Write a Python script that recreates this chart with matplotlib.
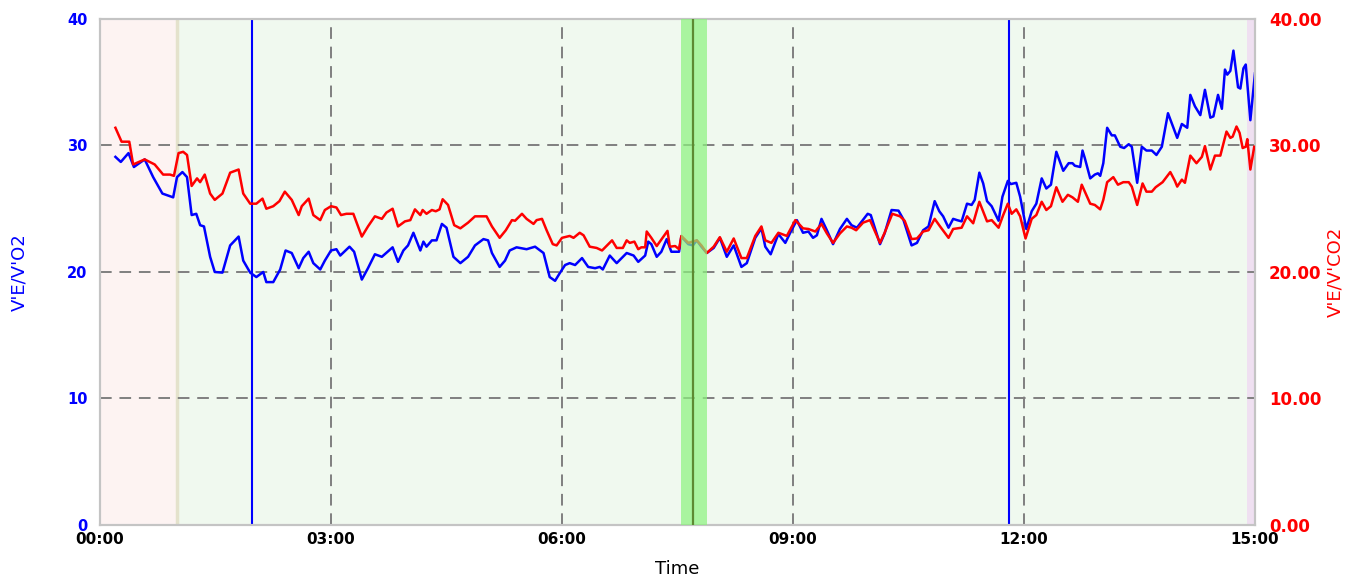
import matplotlib
matplotlib.use("Agg")
import matplotlib.pyplot as plt
from matplotlib.ticker import FuncFormatter

# time in minutes, V'E/V'O2 (blue, left axis)
o2_t = [0.20, 0.27, 0.37, 0.44, 0.58, 0.69, 0.81, 0.95, 1.00, 1.07, 1.13, 1.19, 1.25, 1.30, 1.35,
        1.43, 1.49, 1.59, 1.69, 1.80, 1.86, 1.95, 2.03, 2.12, 2.16, 2.25, 2.34, 2.41, 2.49, 2.58,
        2.64, 2.71, 2.77, 2.86, 2.92, 3.00, 3.07, 3.12, 3.24, 3.30, 3.40, 3.48, 3.57, 3.66, 3.80,
        3.87, 3.94, 4.00, 4.07, 4.16, 4.20, 4.24, 4.31, 4.37, 4.44, 4.50, 4.59, 4.68, 4.78, 4.87,
        4.98, 5.04, 5.09, 5.19, 5.26, 5.32, 5.41, 5.54, 5.65, 5.76, 5.84, 5.91, 5.97, 6.04, 6.10,
        6.17, 6.26, 6.34, 6.43, 6.49, 6.53, 6.62, 6.71, 6.84, 6.93, 6.99, 7.08, 7.12, 7.16, 7.23,
        7.29, 7.36, 7.42, 7.52, 7.55, 7.64, 7.70, 7.75, 7.81, 7.88, 7.97, 8.05, 8.14, 8.23, 8.33,
        8.40, 8.51, 8.59, 8.64, 8.71, 8.81, 8.90, 8.96, 9.05, 9.13, 9.20, 9.26, 9.31, 9.37, 9.44,
        9.52, 9.61, 9.70, 9.76, 9.83, 9.97, 10.01, 10.13, 10.19, 10.28, 10.37, 10.43, 10.54, 10.61,
        10.69, 10.76, 10.84, 10.90, 10.95, 11.02, 11.08, 11.13, 11.19, 11.26, 11.32, 11.36, 11.42,
        11.47, 11.52, 11.58, 11.67, 11.72, 11.79, 11.83, 11.90, 11.95, 12.03, 12.10, 12.16, 12.23,
        12.29, 12.35, 12.42, 12.51, 12.58, 12.63, 12.66, 12.73, 12.76, 12.79, 12.86, 12.92, 12.96,
        12.99, 13.03, 13.08, 13.14, 13.18, 13.25, 13.30, 13.36, 13.40, 13.47, 13.53, 13.59, 13.66,
        13.72, 13.79, 13.87, 13.94, 13.99, 14.05, 14.12, 14.16, 14.22, 14.29, 14.35, 14.42, 14.46,
        14.52, 14.57, 14.61, 14.64, 14.68, 14.72, 14.78, 14.81, 14.85, 14.88, 14.94, 15.00]
o2_v = [29.1, 28.7, 29.4, 28.3, 28.9, 27.5, 26.2, 25.9, 27.5, 27.9, 27.5, 24.5, 24.6, 23.7, 23.6,
        21.2, 20.0, 19.95, 22.1, 22.8, 20.9, 19.95, 19.6, 20.0, 19.2, 19.2, 20.2, 21.7, 21.5, 20.3,
        21.1, 21.6, 20.7, 20.2, 20.9, 21.7, 21.8, 21.3, 22.0, 21.6, 19.4, 20.3, 21.4, 21.2, 21.95,
        20.8, 21.7, 22.1, 23.1, 21.7, 22.4, 22.0, 22.5, 22.5, 23.8, 23.5, 21.2, 20.7, 21.2, 22.1,
        22.6, 22.5, 21.5, 20.4, 20.9, 21.7, 21.95, 21.8, 22.0, 21.5, 19.6, 19.3, 19.9, 20.55, 20.7,
        20.55, 21.1, 20.4, 20.3, 20.4, 20.2, 21.3, 20.7, 21.5, 21.3, 20.8, 21.3, 22.4, 22.2, 21.2,
        21.6, 22.6, 21.6, 21.6, 22.8, 22.2, 22.1, 22.5, 22.0, 21.5, 21.9, 22.7, 21.2, 22.1, 20.4,
        20.7, 22.7, 23.45, 22.0, 21.4, 23.0, 22.3, 23.05, 24.1, 23.1, 23.2, 22.7, 22.9, 24.2, 23.3,
        22.2, 23.4, 24.2, 23.7, 23.5, 24.6, 24.5, 22.2, 23.05, 24.9, 24.85, 24.2, 22.1, 22.3,
        23.3, 23.6, 25.6, 24.8, 24.4, 23.5, 24.2, 24.1, 24.0, 25.4, 25.3, 25.7, 27.85,
        27.0, 25.6, 25.2, 24.05, 25.95, 27.2, 26.95, 27.05, 25.95, 23.4, 24.8, 25.4, 27.4,
        26.6, 26.9, 29.5, 28.0, 28.6, 28.6, 28.4, 28.3, 29.6, 29.0, 27.4, 27.7, 27.8,
        27.6, 28.6, 31.4, 30.8, 30.8, 29.9, 29.8, 30.1, 29.9, 27.05, 29.9, 29.6, 29.6,
        29.25, 29.9, 32.55, 31.4, 30.6, 31.7, 31.4, 34.0, 33.1, 32.4, 34.4, 32.2, 32.3,
        34.0, 32.9, 36.0, 35.6, 35.9, 37.5, 34.6, 34.5, 36.1, 36.4, 32.0, 35.7]

# time in minutes, V'E/V'CO2 (red, right axis)
co2_t = [0.20, 0.28, 0.38, 0.43, 0.58, 0.71, 0.82, 0.91, 0.96, 1.02, 1.08, 1.13, 1.19, 1.26, 1.30,
         1.36, 1.43, 1.49, 1.59, 1.69, 1.80, 1.86, 1.95, 2.03, 2.11, 2.16, 2.25, 2.33, 2.40, 2.49,
         2.58, 2.62, 2.71, 2.77, 2.86, 2.92, 3.00, 3.07, 3.13, 3.20, 3.29, 3.40, 3.48, 3.57, 3.66,
         3.72, 3.80, 3.87, 3.96, 4.03, 4.09, 4.16, 4.19, 4.24, 4.31, 4.36, 4.41, 4.45, 4.52, 4.60,
         4.68, 4.78, 4.87, 5.02, 5.09, 5.19, 5.27, 5.35, 5.39, 5.48, 5.54, 5.63, 5.67, 5.74, 5.80,
         5.88, 5.93, 6.00, 6.10, 6.15, 6.23, 6.28, 6.36, 6.45, 6.52, 6.65, 6.71, 6.79, 6.84, 6.88,
         6.94, 6.99, 7.03, 7.08, 7.10, 7.16, 7.23, 7.37, 7.40, 7.47, 7.52, 7.55, 7.64, 7.75, 7.81,
         7.88, 7.97, 8.05, 8.14, 8.23, 8.33, 8.40, 8.51, 8.59, 8.64, 8.72, 8.81, 8.92, 9.03, 9.13,
         9.20, 9.29, 9.37, 9.44, 9.52, 9.61, 9.70, 9.76, 9.82, 9.91, 10.00, 10.13, 10.19, 10.29,
         10.39, 10.45, 10.54, 10.61, 10.69, 10.76, 10.84, 10.91, 11.02, 11.08, 11.19, 11.26, 11.34,
         11.42, 11.52, 11.58, 11.67, 11.73, 11.79, 11.84, 11.90, 11.95, 12.02, 12.10, 12.16, 12.23,
         12.29, 12.35, 12.42, 12.50, 12.57, 12.63, 12.70, 12.75, 12.86, 12.92, 12.99, 13.03, 13.08,
         13.16, 13.22, 13.29, 13.36, 13.40, 13.47, 13.54, 13.59, 13.66, 13.71, 13.80, 13.90, 13.96,
         13.99, 14.05, 14.09, 14.16, 14.24, 14.31, 14.35, 14.42, 14.48, 14.55, 14.63, 14.68, 14.71,
         14.76, 14.80, 14.84, 14.88, 14.90, 14.94, 14.99]
co2_v = [31.4, 30.3, 30.3, 28.5, 28.9, 28.5, 27.7, 27.7, 27.6, 29.4, 29.5, 29.25, 26.8, 27.4, 27.1,
         27.7, 26.2, 25.7, 26.2, 27.85, 28.1, 26.2, 25.4, 25.4, 25.8, 25.0, 25.2, 25.6, 26.35, 25.7,
         24.5, 25.2, 25.8, 24.5, 24.1, 24.9, 25.2, 25.1, 24.5, 24.6, 24.6, 22.8, 23.6, 24.4, 24.2,
         24.7, 25.0, 23.6, 24.0, 24.1, 24.95, 24.5, 24.9, 24.6, 24.9, 24.8, 24.95, 25.75, 25.3, 23.7,
         23.45, 23.9, 24.4, 24.4, 23.6, 22.7, 23.3, 24.1, 24.05, 24.6, 24.2, 23.8, 24.1, 24.2, 23.3,
         22.2, 22.1, 22.7, 22.85, 22.7, 23.1, 22.9, 22.0, 21.9, 21.7, 22.5, 21.9, 21.9, 22.5, 22.3,
         22.4, 21.8, 21.95, 21.95, 23.2, 22.7, 22.05, 23.25, 22.0, 22.05, 21.8, 22.85, 22.3, 22.5, 22.1,
         21.5, 22.0, 22.75, 21.6, 22.65, 21.1, 21.1, 22.85, 23.6, 22.5, 22.3, 23.1, 22.85, 24.1, 23.45,
         23.4, 23.2, 23.8, 23.05, 22.3, 23.05, 23.6, 23.5, 23.3, 23.9, 24.1, 22.3, 23.1, 24.6,
         24.4, 24.05, 22.6, 22.65, 23.2, 23.3, 24.2, 23.6, 22.7, 23.4, 23.5, 24.4, 23.85,
         25.55, 24.0, 24.1, 23.5, 24.5, 25.4, 24.6, 24.95, 24.4, 22.65, 24.2, 24.5, 25.55,
         24.9, 25.2, 26.7, 25.55, 26.1, 25.9, 25.55, 26.9, 25.4, 25.3, 24.95, 25.7, 27.1,
         27.5, 26.9, 27.1, 27.1, 26.75, 25.3, 27.0, 26.35, 26.35, 26.7, 27.1, 27.9, 27.2,
         26.75, 27.3, 27.05, 29.2, 28.6, 29.1, 29.95, 28.1, 29.2, 29.2, 31.1, 30.6, 30.7,
         31.5, 31.0, 29.8, 29.9, 30.5, 28.1, 29.9]

x_ticks = [0, 3, 6, 9, 12, 15]
y_ticks = [0, 10, 20, 30, 40]
phase_edges = [0, 1.0, 14.9, 15]
markers = [1.97, 11.8]
band = [7.55, 7.88]
band_mid = 7.70

fig = plt.figure(figsize=(13.48, 5.79), dpi=100)
ax = fig.add_axes([0.0742, 0.0933, 0.8568, 0.8739])
ax2 = ax.twinx()

# phase backgrounds
ax.axvspan(phase_edges[0], phase_edges[1], color="#fdf3f2", zorder=0, lw=0)
ax.axvspan(phase_edges[1], phase_edges[2], color="#f0f9ef", zorder=0, lw=0)
ax.axvspan(phase_edges[2], phase_edges[3], color="#efe0f1", zorder=0, lw=0)
ax.axvline(phase_edges[1], color="#e4e2cc", lw=2.5, zorder=0.5)

ax.set_xlim(0, 15)
ax.set_ylim(0, 40)
ax2.set_ylim(0, 40)

dash = (0, (6, 4))
for xt in x_ticks:
    ax.axvline(xt, color="#7f7f7f", lw=1.4, linestyle=dash, zorder=1)
for yt in y_ticks:
    ax.axhline(yt, color="#7f7f7f", lw=1.4, linestyle=dash, zorder=1)

for m in markers:
    ax.axvline(m, color="#0000ff", lw=1.5, zorder=2)

ax.plot(o2_t, o2_v, color="#0000ff", lw=1.8, zorder=3)
ax2.plot(co2_t, co2_v, color="#ff0000", lw=1.8, zorder=3)

# exercise marker band drawn over the curves
ax2.axvspan(band[0], band[1], color="#8cf37e", alpha=0.7, lw=0, zorder=4)
ax2.axvline(band_mid, color="#5d8a32", lw=1.6, zorder=5)

ax.set_xticks(x_ticks)
ax.xaxis.set_major_formatter(FuncFormatter(lambda v, p: "%02d:00" % int(round(v))))
ax.set_yticks(y_ticks)
ax2.set_yticks(y_ticks)
ax2.yaxis.set_major_formatter(FuncFormatter(lambda v, p: "%.2f" % v))

ax.tick_params(axis="x", length=0, pad=5, labelsize=11, labelcolor="black")
ax.tick_params(axis="y", length=0, pad=9, labelsize=10.5, labelcolor="#0000ff")
ax2.tick_params(axis="y", length=0, pad=10, labelsize=12, labelcolor="#ff0000")
ax2.tick_params(axis="x", length=0)
for lab in ax.get_xticklabels() + ax.get_yticklabels() + ax2.get_yticklabels():
    lab.set_fontweight("bold")

for a in (ax, ax2):
    for s in a.spines.values():
        s.set_color("#c4c4c4")
        s.set_linewidth(1.5)

ax.set_xlabel("Time", fontsize=13)
ax.xaxis.set_label_coords(0.5, -0.07)
ax.set_ylabel("V'E/V'O2", fontsize=13, color="#0000ff")
ax.yaxis.set_label_coords(-0.062, 0.5)
ax2.set_ylabel("V'E/V'CO2", fontsize=13, color="#ff0000")
ax2.yaxis.set_label_coords(1.062, 0.5)

fig.savefig("out.png", dpi=100)
